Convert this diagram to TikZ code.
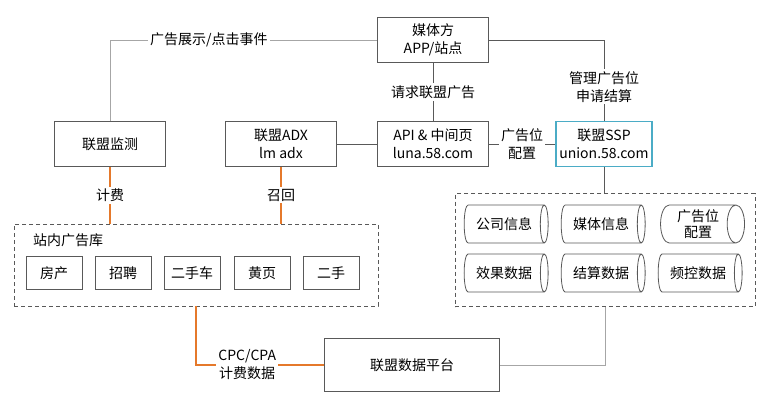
\documentclass[tikz,border=0pt]{standalone}
\usepackage{fontspec}
\setmainfont{Noto Sans CJK SC}
\usetikzlibrary{shapes.geometric}
\definecolor{lineg}{HTML}{595959}
\definecolor{lightg}{HTML}{A6A6A6}
\definecolor{orng}{HTML}{E5792B}
\definecolor{teal}{HTML}{4BACC6}
\begin{document}
\begin{tikzpicture}[x=1pt, y=-1pt,
    font=\fontsize{14}{18}\selectfont,
    box/.style={draw=lineg, thick, align=center, minimum width=111, minimum height=45, inner sep=1pt},
    sbox/.style={draw=lineg, thick, minimum width=56, minimum height=33, inner sep=1pt},
    store/.style={cylinder, draw=lineg, thick, align=center, minimum width=38, minimum height=84, shape aspect=0.6, inner sep=0pt},
    frame/.style={draw=lineg, thick, dash pattern=on 4pt off 3pt},
    lbl/.style={fill=white, align=center, inner sep=2pt},
    conn/.style={draw=lineg, thick},
    bill/.style={draw=orng, line width=2.6pt}]
      \useasboundingbox (0,0) rectangle (768,400);
      % top row
      \node (media)[box] at (433, 40) {媒体方\\APP/站点};
      \node (mon)[box] at (110, 144) {联盟监测};
      \node (adx)[box] at (281, 144) {联盟ADX\\lm adx};
      \node (api)[box] at (433, 144) {API \& 中间页\\luna.58.com};
      \node (ssp)[box, draw=teal, very thick, minimum width=96] at (604, 144) {联盟SSP\\union.58.com};
      % ad library
      \node (lib)[frame, minimum width=364, minimum height=82] at (196, 265) {};
      \node (libl)[anchor=west, inner sep=0pt] at (33, 240) {站内广告库};
      \node (s1)[sbox] at (54, 273) {房产};
      \node (s2)[sbox] at (123, 273) {招聘};
      \node (s3)[sbox] at (192, 273) {二手车};
      \node (s4)[sbox] at (262, 273) {黄页};
      \node (s5)[sbox] at (331, 273) {二手};
      % data stores
      \node (db)[frame, minimum width=300, minimum height=113] at (605, 250) {};
      \node (d1)[store] at (504, 224) {公司信息};
      \node (d2)[store] at (601, 224) {媒体信息};
      \node (d3)[store] at (698, 224) {广告位\\[-2pt]配置};
      \node (d4)[store] at (504, 273) {效果数据};
      \node (d5)[store] at (601, 273) {结算数据};
      \node (d6)[store] at (698, 273) {频控数据};
      \node (dp)[box, minimum width=175, minimum height=53] at (412, 365) {联盟数据平台};
      % connectors
      \draw[draw=lightg] (mon.north) |- node[lbl, pos=0.685] {广告展示/点击事件} (media.west);
      \draw[conn] (media.east) -| node[lbl, pos=0.79] {管理广告位\\申请结算} (ssp.north);
      \draw[conn] (media.south) -- node[lbl] {请求联盟广告} (api.north);
      \draw[conn] (adx.east) -- (api.west);
      \draw[conn] (api.east) -- node[lbl] {广告位\\配置} (ssp.west);
      \draw[conn] (ssp.south) -- (ssp.south |- db.north);
      \draw[draw=lightg] (db.south) |- (dp.east);
      \draw[bill] (mon.south) -- node[lbl] {计费} (mon.south |- lib.north);
      \draw[bill] (adx.south) -- node[lbl] {召回} (adx.south |- lib.north);
      \draw[bill] (lib.south) |- node[lbl, pos=0.7] {CPC/CPA\\计费数据} (dp.west);
    \end{tikzpicture}
\end{document}
